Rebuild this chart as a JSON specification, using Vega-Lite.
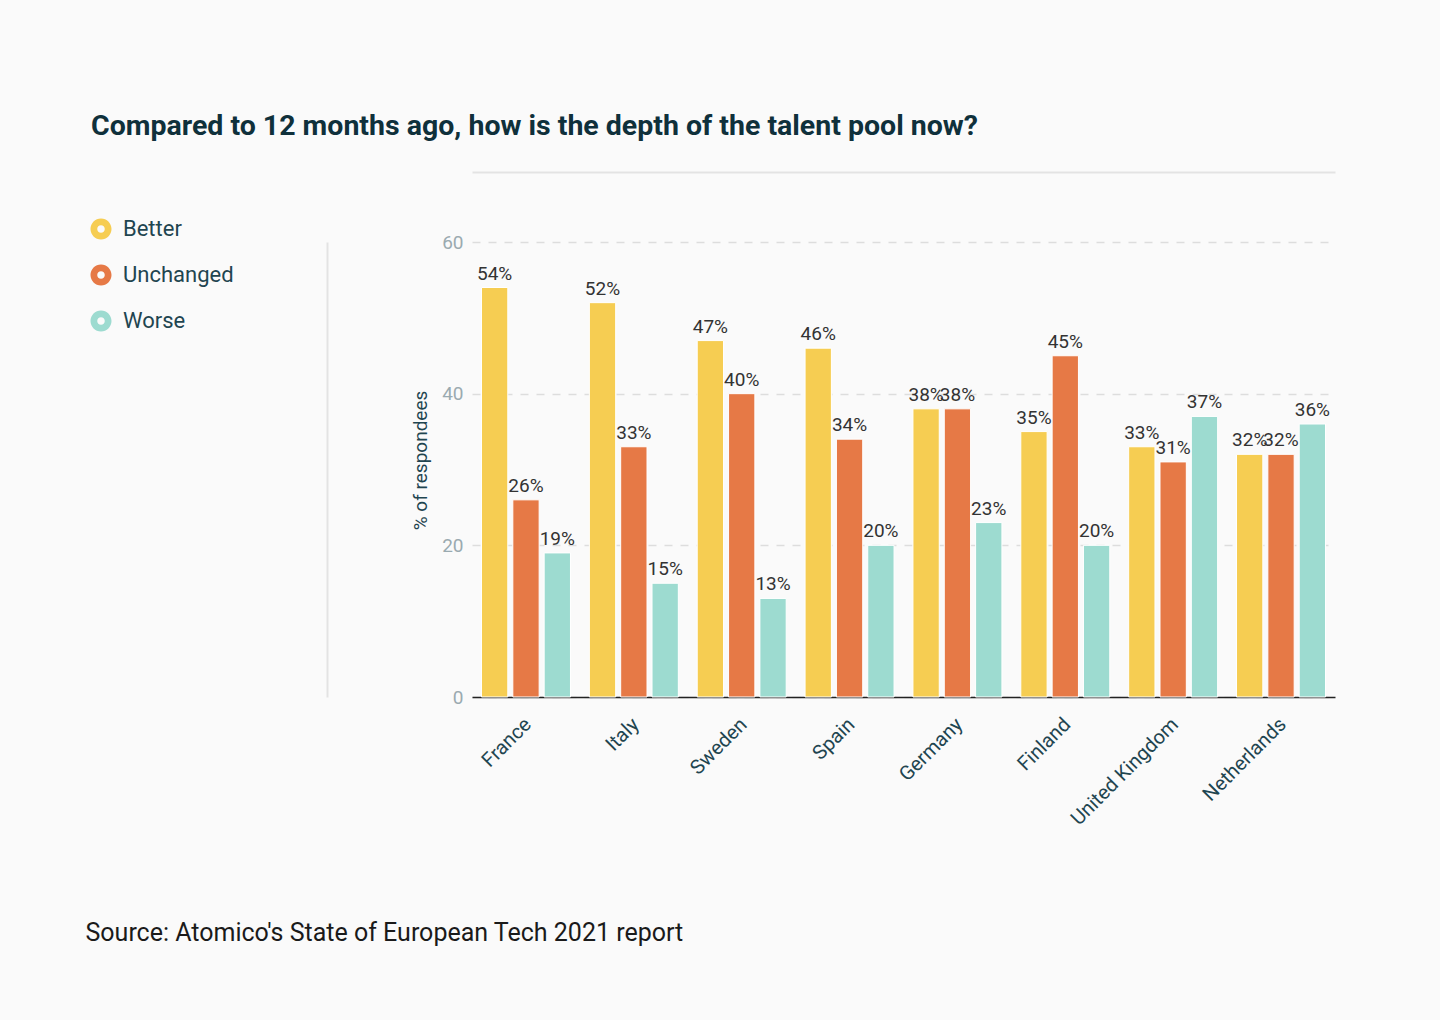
{
  "$schema": "https://vega.github.io/schema/vega-lite/v6.json",
  "width": 863,
  "height": 455,
  "autosize": {"type": "none"},
  "padding": {"left": 472, "top": 242, "right": 105, "bottom": 323},
  "background": "#fafafa",
  "title": {
    "text": "Compared to 12 months ago, how is the depth of the talent pool now?",
    "anchor": "start",
    "frame": "group",
    "dx": -381,
    "offset": 32,
    "font": "Roboto",
    "fontSize": 28.5,
    "fontWeight": "bold",
    "color": "#0f303b"
  },
  "config": {"view": {"stroke": null}},
  "resolve": {"axis": {"x": "independent", "y": "independent"}},
  "data": {
    "values": [
      {"country": "France", "response": "Better", "value": 54, "label": "54%"},
      {"country": "France", "response": "Unchanged", "value": 26, "label": "26%"},
      {"country": "France", "response": "Worse", "value": 19, "label": "19%"},
      {"country": "Italy", "response": "Better", "value": 52, "label": "52%"},
      {"country": "Italy", "response": "Unchanged", "value": 33, "label": "33%"},
      {"country": "Italy", "response": "Worse", "value": 15, "label": "15%"},
      {"country": "Sweden", "response": "Better", "value": 47, "label": "47%"},
      {"country": "Sweden", "response": "Unchanged", "value": 40, "label": "40%"},
      {"country": "Sweden", "response": "Worse", "value": 13, "label": "13%"},
      {"country": "Spain", "response": "Better", "value": 46, "label": "46%"},
      {"country": "Spain", "response": "Unchanged", "value": 34, "label": "34%"},
      {"country": "Spain", "response": "Worse", "value": 20, "label": "20%"},
      {"country": "Germany", "response": "Better", "value": 38, "label": "38%"},
      {"country": "Germany", "response": "Unchanged", "value": 38, "label": "38%"},
      {"country": "Germany", "response": "Worse", "value": 23, "label": "23%"},
      {"country": "Finland", "response": "Better", "value": 35, "label": "35%"},
      {"country": "Finland", "response": "Unchanged", "value": 45, "label": "45%"},
      {"country": "Finland", "response": "Worse", "value": 20, "label": "20%"},
      {"country": "United Kingdom", "response": "Better", "value": 33, "label": "33%"},
      {"country": "United Kingdom", "response": "Unchanged", "value": 31, "label": "31%"},
      {"country": "United Kingdom", "response": "Worse", "value": 37, "label": "37%"},
      {"country": "Netherlands", "response": "Better", "value": 32, "label": "32%"},
      {"country": "Netherlands", "response": "Unchanged", "value": 32, "label": "32%"},
      {"country": "Netherlands", "response": "Worse", "value": 36, "label": "36%"}
    ]
  },
  "encoding": {
    "xOffset": {
      "field": "response",
      "sort": ["Better", "Unchanged", "Worse"],
      "scale": {"paddingInner": 0.16, "paddingOuter": 0}
    }
  },
  "layer": [
    {
      "mark": {"type": "bar", "stroke": "white", "strokeWidth": 1},
      "encoding": {
        "x": {
          "field": "country",
          "type": "nominal",
          "sort": ["France", "Italy", "Sweden", "Spain", "Germany", "Finland", "United Kingdom", "Netherlands"],
          "scale": {"paddingInner": 0.175, "paddingOuter": 0.088},
          "axis": {
            "orient": "bottom",
            "title": "Source: Atomico's State of European Tech 2021 report",
            "titleX": -387,
            "titleY": 243,
            "titleAlign": "left",
            "titleAnchor": null,
            "titleBaseline": "alphabetic",
            "titleFont": "Roboto",
            "titleFontSize": 25,
            "titleFontWeight": "normal",
            "titleColor": "#1a1a1a",
            "labelAngle": -45,
            "labelAlign": "right",
            "labelBaseline": "top",
            "labelFont": "Roboto",
            "labelFontSize": 20,
            "labelColor": "#1f4550",
            "labelPadding": 17,
            "labelOffset": -5,
            "ticks": false,
            "grid": false,
            "domainColor": "#222222",
            "domainWidth": 1.5
          }
        },
        "y": {
          "field": "value",
          "type": "quantitative",
          "scale": {"domain": [0, 60]},
          "axis": {
            "orient": "left",
            "title": "% of respondees",
            "titleFont": "Roboto",
            "titleFontSize": 19,
            "titleFontWeight": "normal",
            "titleColor": "#1f4550",
            "titlePadding": 11,
            "titleY": 218,
            "values": [0, 20, 40, 60],
            "labelFont": "Roboto",
            "labelFontSize": 19,
            "labelColor": "#9aaab0",
            "labelPadding": 9,
            "ticks": false,
            "domain": false,
            "grid": true,
            "gridDash": [8, 8],
            "gridColor": "#dddddd",
            "gridWidth": 1.5
          }
        },
        "color": {
          "field": "response",
          "type": "nominal",
          "sort": ["Better", "Unchanged", "Worse"],
          "scale": {"domain": ["Better", "Unchanged", "Worse"], "range": ["#f6cd52", "#e67946", "#9ddbd0"]},
          "legend": {
            "orient": "none",
            "legendX": -382,
            "legendY": -24,
            "title": null,
            "padding": 0,
            "symbolType": "M-1,0A1,1,0,1,1,1,0A1,1,0,1,1,-1,0ZM-0.36,0A0.36,0.36,0,1,0,0.36,0A0.36,0.36,0,1,0,-0.36,0Z",
            "symbolSize": 441,
            "symbolStrokeWidth": 0,
            "symbolOpacity": 1,
            "labelFont": "Roboto",
            "labelFontSize": 22,
            "labelColor": "#1f4550",
            "labelOffset": 11,
            "rowPadding": 24
          }
        }
      }
    },
    {
      "mark": {"type": "text", "baseline": "bottom", "dy": -4, "font": "Roboto", "fontSize": 19, "color": "#333333"},
      "encoding": {
        "text": {"field": "label"},
        "x": {
          "field": "country",
          "type": "nominal",
          "sort": ["France", "Italy", "Sweden", "Spain", "Germany", "Finland", "United Kingdom", "Netherlands"],
          "axis": {
            "orient": "top",
            "offset": 70,
            "labels": false,
            "ticks": false,
            "grid": false,
            "title": null,
            "domain": true,
            "domainColor": "#e3e3e3",
            "domainWidth": 2
          }
        },
        "y": {
          "field": "value",
          "type": "quantitative",
          "axis": {
            "orient": "left",
            "offset": 145,
            "labels": false,
            "ticks": false,
            "grid": false,
            "title": null,
            "domain": true,
            "domainColor": "#e3e3e3",
            "domainWidth": 2
          }
        }
      }
    }
  ]
}
